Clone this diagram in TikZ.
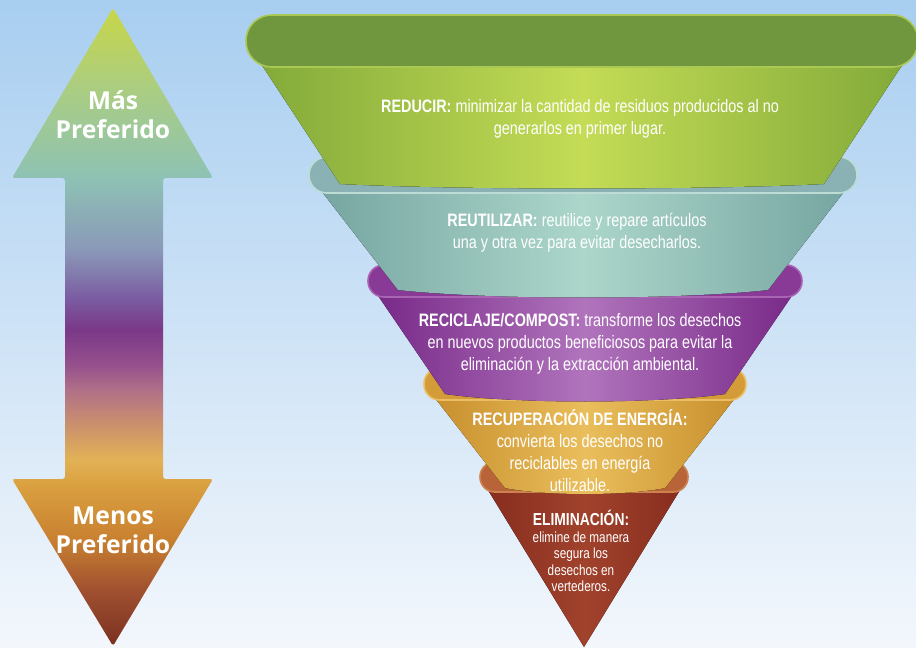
\documentclass[tikz,border=0pt]{standalone}
\usepackage{fontspec}
\setmainfont{Liberation Sans}
\newfontfamily\condFont[FakeStretch=0.8]{Liberation Sans}
\newfontfamily\arrowFont{Open Sans}
\usetikzlibrary{calc,positioning}

\definecolor{bgTop}{RGB}{168,206,240}
\definecolor{bgBot}{RGB}{243,247,252}
% arrow colours, top to bottom
\definecolor{arTop}{RGB}{200,214,72}
\definecolor{arA}{RGB}{170,205,130}
\definecolor{arB}{RGB}{142,194,180}
\definecolor{arC}{RGB}{138,152,184}
\definecolor{arD}{RGB}{122,90,160}
\definecolor{arE}{RGB}{122,56,136}
\definecolor{arF}{RGB}{150,80,140}
\definecolor{arG}{RGB}{176,112,136}
\definecolor{arH}{RGB}{200,140,112}
\definecolor{arI}{RGB}{226,178,86}
\definecolor{arJ}{RGB}{218,160,64}
\definecolor{arK}{RGB}{200,128,48}
\definecolor{arL}{RGB}{160,80,48}
\definecolor{arBot}{RGB}{122,48,32}
% funnel colours: E edge, M middle, R rim, L lip
\definecolor{grnE}{RGB}{128,168,56}
\definecolor{grnM}{RGB}{196,220,86}
\definecolor{grnR}{RGB}{112,150,62}
\definecolor{grnL}{RGB}{170,200,84}
\definecolor{tealE}{RGB}{116,164,160}
\definecolor{tealM}{RGB}{172,214,202}
\definecolor{tealR}{RGB}{138,178,180}
\definecolor{tealL}{RGB}{190,220,214}
\definecolor{prpE}{RGB}{118,38,134}
\definecolor{prpM}{RGB}{176,116,188}
\definecolor{prpR}{RGB}{136,58,150}
\definecolor{prpL}{RGB}{170,100,180}
\definecolor{gldE}{RGB}{198,140,42}
\definecolor{gldM}{RGB}{234,190,92}
\definecolor{gldR}{RGB}{212,156,56}
\definecolor{gldL}{RGB}{236,190,100}
\definecolor{brnE}{RGB}{134,44,30}
\definecolor{brnM}{RGB}{160,66,44}
\definecolor{brnR}{RGB}{184,100,56}
\definecolor{brnL}{RGB}{205,130,80}

\pgfdeclareverticalshading{prefShade}{100bp}{%
  color(0bp)=(arBot); color(25bp)=(arBot); color(29.4bp)=(arL);
  color(33.3bp)=(arK); color(37.6bp)=(arJ); color(39.6bp)=(arI);
  color(42.7bp)=(arH); color(45.1bp)=(arG); color(47bp)=(arF);
  color(49.8bp)=(arE); color(52.1bp)=(arD); color(56bp)=(arC);
  color(61.7bp)=(arB); color(68.6bp)=(arA); color(75bp)=(arTop);
  color(100bp)=(arTop)}

\tikzset{
    tierText/.style={
        ,   text=white
        ,   align=center
        ,   inner sep=0pt
        ,   font=\condFont\fontsize{13.5}{16.5}\selectfont
    },
    tipText/.style={
        ,   tierText
        ,   font=\condFont\fontsize{11}{12.4}\selectfont
    },
    arrowText/.style={
        ,   text=white
        ,   align=center
        ,   inner sep=0pt
        ,   font=\arrowFont\bfseries\fontsize{18.5}{21.75}\selectfont
    },
    prefArrow/.style={
        ,   shading=prefShade
        ,   rounded corners=2pt
    }
}

\begin{document}
\begin{tikzpicture}[x=0.75pt,y=-0.75pt]
\useasboundingbox (0,0) rectangle (916,648);
\fill[top color=bgTop,bottom color=bgBot] (0,0) rectangle (916,648);

% double arrow on the left
\shade[prefArrow] (113,8) -- (213,178) -- (163,178) -- (163,479) -- (213,479)
  -- (113,646) -- (12,479) -- (65,479) -- (65,178) -- (12,178) -- cycle;
\node[arrowText] (mas) at (113,115) {Más\\Preferido};
\node[arrowText] (menos) at (113,530) {Menos\\Preferido};

% funnel, drawn from the bottom tier up
\foreach \cx/\yt/\rh/\wt/\yb/\wb/\dip/\cE/\cM/\cR/\cL in {
    584/462/30/104/647/0/0/brnE/brnM/brnR/brnL,
    585/368/32/161/488/80/8/gldE/gldM/gldR/gldL,
    585/265/32/217/394/140/10/prpE/prpM/prpR/prpL,
    583/157/36/274/290/185/10/tealE/tealM/tealR/tealL,
    582/15/52/336/184/242/6/grnE/grnM/grnR/grnL}{
  \pgfmathsetmacro\rr{\rh*0.37}
  \fill[left color=\cE,right color=\cE,middle color=\cM]
    (\cx-\wt,\yt+\rh/2) -- (\cx-\wb,\yb)
    .. controls (\cx-\wb/2,\yb+\dip) and (\cx+\wb/2,\yb+\dip) .. (\cx+\wb,\yb)
    -- (\cx+\wt,\yt+\rh/2) -- cycle;
  \draw[rounded corners=\rr pt,fill=\cR,draw=\cL,line width=1.2pt]
    (\cx-\wt,\yt) rectangle (\cx+\wt,\yt+\rh);
}

\node[tierText] (reducir) at (580,119)
  {\textbf{REDUCIR:} minimizar la cantidad de residuos producidos al no\\generarlos en primer lugar.};
\node[tierText] (reutilizar) at (577,233)
  {\textbf{REUTILIZAR:} reutilice y repare artículos\\una y otra vez para evitar desecharlos.};
\node[tierText] (reciclaje) at (580,344)
  {\textbf{RECICLAJE/COMPOST:} transforme los desechos\\en nuevos productos beneficiosos para evitar la\\eliminación y la extracción ambiental.};
\node[tierText] (recuperacion) at (580,451)
  {\textbf{RECUPERACIÓN DE ENERGÍA:}\\convierta los desechos no\\reciclables en energía\\utilizable.};
\node[tipText] (eliminacion) at (581,551)
  {\textbf{\fontsize{13}{14}\selectfont ELIMINACIÓN:}\\elimine de manera\\segura los\\desechos en\\vertederos.};
\end{tikzpicture}
\end{document}
